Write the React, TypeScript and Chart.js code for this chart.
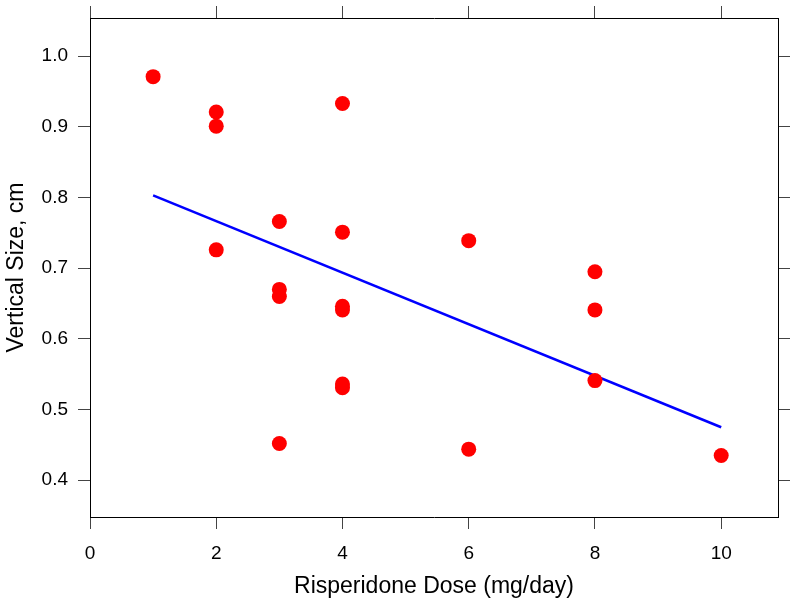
import React, { useEffect, useRef } from "react";
import { Chart, registerables } from "chart.js";

Chart.register(...registerables);

// Risperidone dose (mg/day) and vertical size (cm)
const doses = [1, 2, 2, 2, 3, 3, 3, 3, 4, 4, 4, 4, 4, 4, 6, 6, 8, 8, 8, 10];
const sizes = [
  0.971, 0.921, 0.901, 0.726,
  0.766, 0.670, 0.660, 0.452,
  0.933, 0.751, 0.646, 0.641, 0.536, 0.531,
  0.739, 0.444,
  0.695, 0.641, 0.541,
  0.435,
];

// Fitted line endpoints
const fitX = [1, 10];
const fitY = [0.803, 0.475];

const xTickValues = [0, 2, 4, 6, 8, 10];
const yTickValues = [0.4, 0.5, 0.6, 0.7, 0.8, 0.9, 1.0];

const X_MIN = 0;
const X_MAX = 10.9;
const Y_MIN = 0.348;
const Y_MAX = 1.054;

const FONT = "'Liberation Sans', Arial, Helvetica, sans-serif";

const zeroPad = (s: any) => {
  s.paddingTop = 0;
  s.paddingBottom = 0;
  s.paddingLeft = 0;
  s.paddingRight = 0;
};

export default function App() {
  const ref = useRef<HTMLCanvasElement | null>(null);

  useEffect(() => {
    if (!ref.current) return;
    const axisColor = "#000000";
    const tickColor = "#444444";

    const chart = new Chart(ref.current, {
      type: "scatter",
      data: {
        datasets: [
          {
            label: "points",
            data: doses.map((d, i) => ({ x: d, y: sizes[i] })),
            backgroundColor: "#FF0000",
            borderColor: "#FF0000",
            pointRadius: 7.5,
            pointBorderWidth: 0,
            showLine: false,
            order: 0,
          },
          {
            label: "fit",
            data: fitX.map((x, i) => ({ x, y: fitY[i] })),
            type: "line",
            borderColor: "#0000FF",
            borderWidth: 2.5,
            pointRadius: 0,
            fill: false,
            order: 1,
          },
        ],
      },
      options: {
        animation: false,
        responsive: false,
        maintainAspectRatio: false,
        layout: { padding: 0 },
        plugins: {
          legend: { display: false },
          tooltip: { enabled: false },
          title: { display: false },
        },
        scales: {
          x: {
            type: "linear",
            position: "bottom",
            min: X_MIN,
            max: X_MAX,
            afterBuildTicks: (s: any) => {
              s.ticks = xTickValues.map((v) => ({ value: v }));
            },
            afterFit: (s: any) => {
              s.height = 88;
              zeroPad(s);
            },
            ticks: {
              color: "#000",
              font: { family: FONT, size: 19 },
              padding: 13,
              maxRotation: 0,
              callback: (v: any) => String(v),
            },
            grid: {
              drawOnChartArea: false,
              drawTicks: true,
              tickLength: 12,
              color: tickColor,
              lineWidth: 1,
            },
            border: { display: true, color: axisColor, width: 1 },
            title: {
              display: true,
              text: "Risperidone Dose (mg/day)",
              color: "#000",
              font: { family: FONT, size: 23 },
              padding: { top: 0, bottom: 5 },
            },
          },
          xTop: {
            type: "linear",
            position: "top",
            min: X_MIN,
            max: X_MAX,
            afterBuildTicks: (s: any) => {
              s.ticks = xTickValues.map((v) => ({ value: v }));
            },
            afterFit: (s: any) => {
              s.height = 18;
              zeroPad(s);
            },
            ticks: { display: false },
            grid: {
              drawOnChartArea: false,
              drawTicks: true,
              tickLength: 12,
              color: tickColor,
              lineWidth: 1,
            },
            border: { display: true, color: axisColor, width: 1 },
          },
          y: {
            type: "linear",
            position: "left",
            min: Y_MIN,
            max: Y_MAX,
            afterBuildTicks: (s: any) => {
              s.ticks = yTickValues.map((v) => ({ value: v }));
            },
            afterFit: (s: any) => {
              s.width = 90;
              zeroPad(s);
            },
            ticks: {
              color: "#000",
              font: { family: FONT, size: 19 },
              padding: 10,
              callback: (v: any) => Number(v).toFixed(1),
            },
            grid: {
              drawOnChartArea: false,
              drawTicks: true,
              tickLength: 12,
              color: tickColor,
              lineWidth: 1,
            },
            border: { display: true, color: axisColor, width: 1 },
            title: {
              display: true,
              text: "Vertical Size, cm",
              color: "#000",
              font: { family: FONT, size: 23 },
              padding: { top: 3, bottom: 0 },
            },
          },
          yRight: {
            type: "linear",
            position: "right",
            min: Y_MIN,
            max: Y_MAX,
            afterBuildTicks: (s: any) => {
              s.ticks = yTickValues.map((v) => ({ value: v }));
            },
            afterFit: (s: any) => {
              s.width = 22;
              zeroPad(s);
            },
            ticks: { display: false },
            grid: {
              drawOnChartArea: false,
              drawTicks: true,
              tickLength: 12,
              color: tickColor,
              lineWidth: 1,
            },
            border: { display: true, color: axisColor, width: 1 },
          },
        },
      },
    } as any);

    return () => {
      chart.destroy();
    };
  }, []);

  return (
    <div
      style={{
        position: "absolute",
        left: 0,
        top: 0,
        width: 800,
        height: 605,
        background: "#ffffff",
      }}
    >
      <canvas ref={ref} width={800} height={605} style={{ display: "block" }} />
    </div>
  );
}
